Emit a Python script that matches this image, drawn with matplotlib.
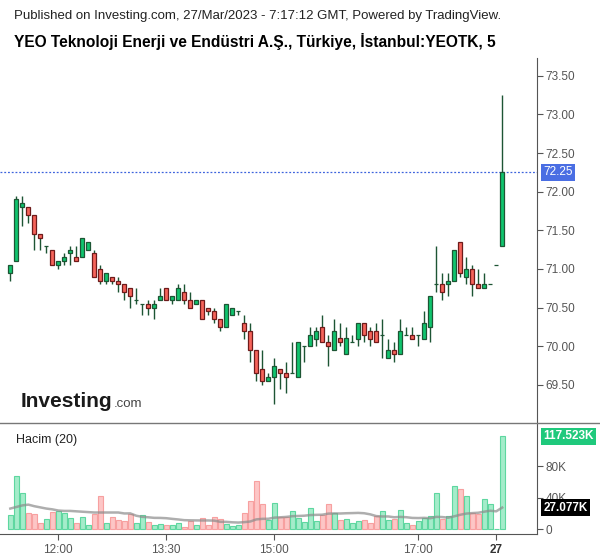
import matplotlib
matplotlib.use('Agg')
import matplotlib.pyplot as plt
import matplotlib.transforms as mtransforms
from matplotlib.lines import Line2D
import numpy as np
import pandas as pd

plt.rcParams['font.family'] = ['Liberation Sans', 'DejaVu Sans']

# 5-minute candles, 24 Mar 11:20 -> 27 Mar open
opens = [70.95, 71.10, 71.80, 71.80, 71.70, 71.45, 71.30, 71.25, 71.05, 71.10,
         71.20, 71.15, 71.15, 71.25, 71.20, 71.00, 70.85, 70.90, 70.85, 70.80,
         70.75, 70.60, 70.55, 70.55, 70.50, 70.60, 70.75, 70.60, 70.60, 70.70,
         70.60, 70.55, 70.60, 70.50, 70.45, 70.35, 70.25, 70.40, 70.45, 70.30,
         70.20, 69.95, 69.70, 69.55, 69.60, 69.70, 69.65, 69.65, 69.60, 70.00,
         70.00, 70.10, 70.25, 70.05, 69.95, 70.10, 69.90, 70.05, 70.10, 70.30,
         70.20, 70.20, 70.15, 69.85, 69.95, 69.90, 70.15, 70.15, 70.15, 70.10,
         70.25, 70.80, 70.80, 70.80, 70.85, 71.35, 70.90, 71.00, 70.80, 70.75,
         70.80, 71.05, 71.30]
highs = [71.05, 71.95, 71.95, 71.80, 71.70, 71.45, 71.30, 71.25, 71.10, 71.20,
         71.30, 71.30, 71.40, 71.35, 71.25, 71.05, 70.95, 70.90, 70.90, 70.80,
         70.75, 70.75, 70.55, 70.60, 70.60, 70.75, 70.75, 70.65, 70.80, 70.80,
         70.70, 70.60, 70.60, 70.50, 70.50, 70.35, 70.55, 70.50, 70.45, 70.40,
         70.30, 69.95, 69.95, 69.65, 69.85, 69.70, 69.80, 70.05, 70.05, 70.00,
         70.25, 70.25, 70.40, 70.15, 70.35, 70.30, 70.25, 70.15, 70.30, 70.30,
         70.25, 70.30, 70.35, 70.10, 70.05, 70.35, 70.25, 70.25, 70.15, 70.45,
         70.65, 71.30, 70.95, 70.95, 71.25, 71.35, 71.15, 71.05, 71.00, 70.95,
         70.80, 71.05, 73.25]
lows = [70.85, 71.10, 71.55, 71.60, 71.25, 71.25, 71.20, 71.05, 71.00, 71.05,
        71.05, 71.10, 71.15, 71.25, 70.90, 70.80, 70.80, 70.80, 70.70, 70.60,
        70.50, 70.55, 70.40, 70.40, 70.35, 70.60, 70.60, 70.55, 70.60, 70.55,
        70.50, 70.55, 70.35, 70.40, 70.30, 70.20, 70.25, 70.40, 70.40, 70.10,
        69.80, 69.55, 69.50, 69.55, 69.25, 69.45, 69.40, 69.65, 69.60, 69.80,
        70.00, 70.00, 70.05, 69.75, 69.95, 70.00, 69.90, 70.05, 70.00, 70.05,
        70.00, 70.05, 69.85, 69.85, 69.80, 69.90, 70.15, 70.10, 70.00, 70.10,
        70.05, 70.70, 70.60, 70.65, 70.85, 70.90, 70.80, 70.65, 70.75, 70.75,
        70.80, 71.05, 71.30]
closes = [71.05, 71.90, 71.85, 71.70, 71.45, 71.40, 71.30, 71.05, 71.10, 71.15,
          71.25, 71.10, 71.40, 71.35, 70.90, 70.85, 70.95, 70.85, 70.80, 70.70,
          70.65, 70.60, 70.55, 70.50, 70.55, 70.65, 70.60, 70.65, 70.75, 70.60,
          70.50, 70.60, 70.35, 70.45, 70.35, 70.25, 70.55, 70.50, 70.45, 70.20,
          69.95, 69.65, 69.55, 69.60, 69.75, 69.65, 69.60, 69.65, 70.05, 70.00,
          70.15, 70.20, 70.05, 70.00, 70.20, 70.05, 70.10, 70.05, 70.30, 70.15,
          70.10, 70.05, 70.15, 69.95, 69.90, 70.20, 70.15, 70.10, 70.15, 70.30,
          70.65, 70.80, 70.70, 70.85, 71.25, 70.95, 71.00, 70.80, 70.75, 70.80,
          70.80, 71.05, 72.25]
# volume in thousands
volumes = [17.4, 66.9, 45.3, 19.9, 19.0, 7.2, 12.3, 21.6, 22.4, 19.9,
           13.5, 7.2, 14.8, 4.7, 19.0, 41.9, 7.2, 14.8, 11.0, 9.7,
           19.0, 7.2, 17.4, 8.5, 4.7, 5.9, 4.7, 4.7, 7.2, 2.1,
           9.7, 4.7, 13.5, 4.7, 14.8, 12.3, 5.9, 3.4, 4.7, 19.9,
           35.1, 60.5, 31.7, 11.0, 32.6, 14.8, 14.8, 22.4, 13.5, 8.5,
           26.2, 9.7, 17.4, 31.7, 19.9, 11.0, 12.3, 7.2, 9.7, 11.0,
           7.2, 16.1, 22.4, 11.0, 12.3, 23.7, 7.2, 4.7, 9.7, 13.5,
           16.1, 45.3, 12.3, 16.1, 54.2, 50.4, 41.9, 19.9, 19.0, 37.7,
           31.7, 0.5, 117.523]
# first 19 values of the 20-bar volume average (need earlier bars)
ma_head = [26, 28, 30, 31, 29, 27.5, 26, 25, 23.5, 23, 23, 22.5, 22, 21.5, 21, 21, 21, 21, 21]

tick_pos = [8, 26, 44, 68, 81]
tick_labels = ['12:00', '13:30', '15:00', '17:00', '27']
price_ticks = [69.5, 70.0, 70.5, 71.0, 71.5, 72.0, 72.5, 73.0, 73.5]
vol_ticks = [0, 40, 80]
vol_tick_labels = ['0', '40K', '80K']

W, H = 600, 558
fig = plt.figure(figsize=(W / 100, H / 100), dpi=100)
ax = fig.add_axes([0, 1 - 423.5 / H, 537 / W, (423.5 - 58) / H])
axv = fig.add_axes([0, 1 - 534 / H, 537 / W, (534 - 423.5) / H], sharex=ax)

o = np.array(opens)
c = np.array(closes)
x = np.arange(len(o))
up = c >= o

ax.vlines(x, lows, highs, color='#1d5534', lw=1.0, zorder=2)
ax.bar(x, np.abs(c - o), bottom=np.minimum(o, c), width=0.68,
       color=np.where(up, '#10c46e', '#f6645b'),
       edgecolor=np.where(up, '#1d5534', '#6e1b1b'), linewidth=0.9, zorder=3)
ax.axhline(closes[-1], color='#3d63dd', lw=0.9, ls=(0, (1.5, 1.5)), zorder=1)

ax.set_xlim(-1.72, 87.8)
ax.set_ylim(69.0, 73.73)
ax.yaxis.tick_right()
ax.set_yticks(price_ticks)
ax.set_yticklabels([f'{p:.2f}' for p in price_ticks])
ax.tick_params(axis='y', colors='#555555', labelsize=8.5, length=4, width=0.8, pad=2)
ax.tick_params(axis='x', bottom=False, labelbottom=False)
for s in ['top', 'left', 'bottom']:
    ax.spines[s].set_visible(False)
ax.spines['right'].set_color('#555555')

tr = mtransforms.blended_transform_factory(ax.transAxes, ax.transData)
fig.text(1.012, closes[-1], f'{closes[-1]:.2f}', transform=tr, color='white', fontsize=8.5,
         va='center', ha='left', zorder=5,
         bbox=dict(boxstyle='square,pad=0.2', fc='#4a6ee3', ec='none'))

# volume panel
vfill = np.where(up, '#a4ecca', '#fdc6c6')
vedge = np.where(up, '#5ed7a0', '#f7a0a0')
axv.bar(x, volumes, width=0.82, color=vfill, edgecolor=vedge, linewidth=0.8, zorder=2)
ma = pd.Series(volumes).rolling(20).mean().to_numpy()
ma[:19] = ma_head
axv.plot(x, ma, color='#8c8c8c', lw=1.8, alpha=0.7, zorder=3)

axv.set_ylim(-6.3, 134)
axv.yaxis.tick_right()
axv.set_yticks(vol_ticks)
axv.set_yticklabels(vol_tick_labels)
axv.tick_params(axis='y', colors='#555555', labelsize=8.5, length=4, width=0.8, pad=2)
axv.set_xticks(tick_pos)
axv.set_xticklabels(tick_labels)
axv.tick_params(axis='x', colors='#555555', labelsize=8.5, length=4, width=0.8, pad=3)
for lbl in axv.get_xticklabels():
    if lbl.get_text() == '27':
        lbl.set_fontweight('bold')
        lbl.set_color('#333333')
axv.spines['top'].set_visible(False)
axv.spines['left'].set_visible(False)
axv.spines['right'].set_color('#555555')
axv.spines['bottom'].set_color('#555555')

# last-value labels drawn at figure level so they sit on top of the tick labels
trv = mtransforms.blended_transform_factory(axv.transAxes, axv.transData)
fig.text(1.012, volumes[-1], '117.523K', transform=trv, color='white', fontsize=8.5,
         fontweight='bold', va='center', ha='left', zorder=5,
         bbox=dict(boxstyle='square,pad=0.2', fc='#1fc97c', ec='none'))
fig.text(1.012, ma[-1], '27.077K', transform=trv, color='white', fontsize=8.5,
         fontweight='bold', va='center', ha='left', zorder=5,
         bbox=dict(boxstyle='square,pad=0.2', fc='black', ec='none'))
axv.text(16 / 537, 0.855, 'Hacim (20)', transform=axv.transAxes, fontsize=9,
         color='#222222', va='center', ha='left')

# separator between panels
fig.add_artist(Line2D([0, 1], [1 - 423 / H, 1 - 423 / H], transform=fig.transFigure,
                      color='#777777', lw=1.0))

# header texts
fig.text(14 / W, 1 - 16 / H, 'Published on Investing.com, 27/Mar/2023 - 7:17:12 GMT, Powered by TradingView.',
         fontsize=9.5, color='#222222', va='center', ha='left')
fig.text(14 / W, 1 - 41 / H, 'YEO Teknoloji Enerji ve Endüstri A.Ş., Türkiye, İstanbul:YEOTK, 5',
         fontsize=11.2, fontweight='bold', color='black', va='center', ha='left')

# watermark logo
fig.text(21 / W, 1 - 407 / H, 'Investing', fontsize=15, fontweight='bold', color='#1a1a1a',
         va='baseline', ha='left')
fig.text(114 / W, 1 - 407 / H, '.com', fontsize=9.5, color='#444444', va='baseline', ha='left')

fig.savefig('out.png', dpi=100)
